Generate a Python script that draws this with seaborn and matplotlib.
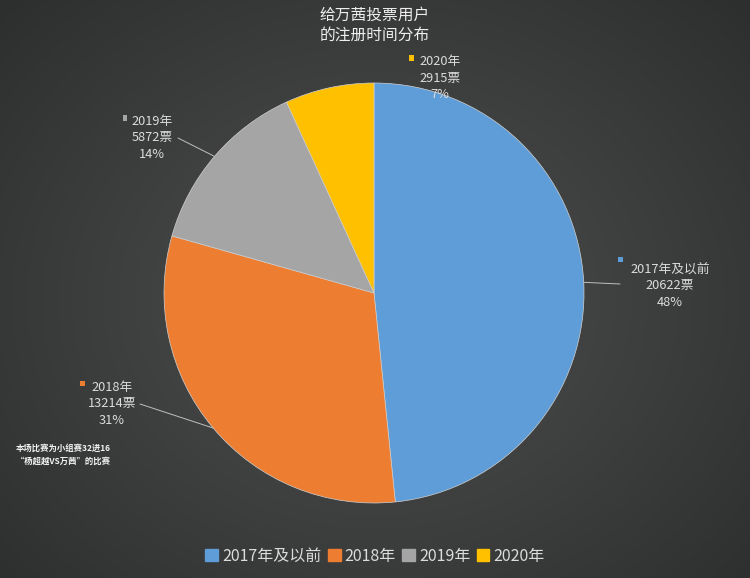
import numpy as np
import matplotlib
matplotlib.use("Agg")
import matplotlib.pyplot as plt
import seaborn as sns

# ---- data ----
categories = ["2017年及以前", "2018年", "2019年", "2020年"]
votes = [20622, 13214, 5872, 2915]
percent_labels = ["48%", "31%", "14%", "7%"]
colors = ["#5E9DD7", "#ED7D31", "#A5A5A5", "#FFC000"]
title_text = "给万茜投票用户\n的注册时间分布"
note_text = "本场比赛为小组赛32进16\n“杨超越VS万茜”的比赛"

sns.set_theme(style="white")
plt.rcParams['font.family'] = ['Noto Sans CJK SC', 'DejaVu Sans']
palette = sns.color_palette(colors)

W, H = 750, 578
fig = plt.figure(figsize=(W / 100, H / 100), dpi=100)

# background radial gradient
bg = fig.add_axes([0, 0, 1, 1])
yy, xx = np.mgrid[0:H, 0:W]
r = np.sqrt(((xx - 375) / 560.0) ** 2 + ((yy - 300) / 470.0) ** 2)
r = np.clip(r, 0, 1)
inner = np.array([0x4f, 0x4f, 0x4f]) / 255
outer = np.array([0x2a, 0x2c, 0x2c]) / 255
img = inner[None, None, :] * (1 - r[..., None]) + outer[None, None, :] * r[..., None]
bg.imshow(img, aspect="auto", extent=[0, W, H, 0])
bg.set_xlim(0, W)
bg.set_ylim(H, 0)
bg.axis("off")

# pie axes: center (374,293) px, radius 210 px
cx, cy, rad = 374, 293, 210
ax = fig.add_axes([(cx - rad) / W, 1 - (cy + rad) / H, 2 * rad / W, 2 * rad / H])
wedges, _ = ax.pie(votes, colors=palette, startangle=90, counterclock=False,
                   radius=1.0, wedgeprops=dict(edgecolor="#d0d0d0", linewidth=0.5))
ax.set_xlim(-1, 1)
ax.set_ylim(-1, 1)
ax.set_aspect("auto")
ax.axis("off")

# labels (figure pixel coordinates, y from top)
label_pos = [(670, 286), (112, 404), (152, 138), (440, 78)]
marker_pos = [(620, 259), (82, 383), (125, 118), (411, 58)]
line_start = [(620, 284), (140, 404), (178, 138), None]
label_color = "#dcdcdc"

def fx(x):
    return x / W

def fy(y):
    return 1 - y / H

total = sum(votes)
start = 90.0
for i, (cat, v, p) in enumerate(zip(categories, votes, percent_labels)):
    sweep = 360.0 * v / total
    mid = np.deg2rad(start - sweep / 2)
    start -= sweep
    ex, ey = cx + rad * np.cos(mid), cy - rad * np.sin(mid)
    lx, ly = label_pos[i]
    fig.text(fx(lx), fy(ly), f"{cat}\n{v}票\n{p}", ha="center", va="center",
             color=label_color, fontsize=9.2, linespacing=1.3)
    mx, my = marker_pos[i]
    fig.patches.append(plt.Rectangle((fx(mx - 2.5), fy(my + 2.5)), 5 / W, 5 / H,
                                     transform=fig.transFigure, color=palette[i],
                                     ec="none"))
    if line_start[i] is not None:
        sx, sy = line_start[i]
        fig.add_artist(plt.Line2D([fx(sx), fx(ex)], [fy(sy), fy(ey)],
                                  transform=fig.transFigure, color="#bfbfbf",
                                  linewidth=0.7))

# title
fig.text(0.5, fy(25), title_text, ha="center", va="center", color="#eeeeee",
         fontsize=11.3, linespacing=1.25)

# note
fig.text(fx(16), fy(455), note_text, ha="left", va="center", color="#f4f4f4",
         fontsize=6, linespacing=1.5, fontweight="bold")

# legend
handles = [plt.Rectangle((0, 0), 1, 1, color=palette[i]) for i in range(len(categories))]
leg = fig.legend(handles, categories, loc="center", bbox_to_anchor=(0.5, fy(556)),
                 ncol=4, frameon=False, fontsize=11.5, handlelength=0.8,
                 handleheight=0.8, handletextpad=0.25, columnspacing=0.4)
for t in leg.get_texts():
    t.set_color("#dcdcdc")

fig.savefig("out.png", dpi=100)
